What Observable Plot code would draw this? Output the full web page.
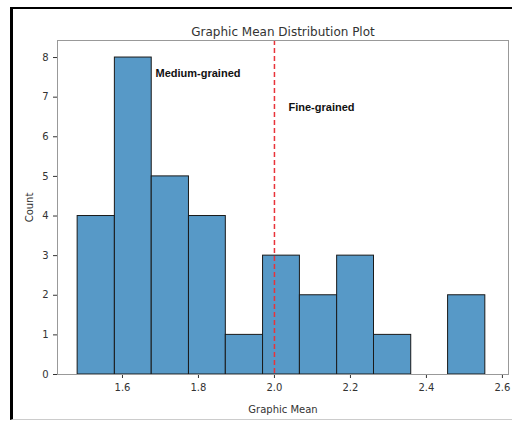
<!DOCTYPE html>
<html><head><meta charset="utf-8">
<script src="https://cdn.jsdelivr.net/npm/d3@7"></script>
<script src="https://cdn.jsdelivr.net/npm/@observablehq/plot@0.6"></script>
<style>
body{margin:0;background:#fff;}
#wrap{position:relative;width:512px;height:421px;overflow:hidden;}
#border{position:absolute;left:10px;top:7px;width:520px;height:410px;border-left:3px solid #000;border-top:2px solid #000;border-bottom:1px solid #ccc;pointer-events:none;}
#chart{position:absolute;left:0;top:0;}
</style></head>
<body><div id="wrap"><div id="chart"></div><div id="border"></div></div>
<script>
const binEdges = [1.482, 1.580, 1.677, 1.775, 1.872, 1.970, 2.067, 2.165, 2.262, 2.360, 2.457, 2.555];
const counts = [4, 8, 5, 4, 1, 3, 2, 3, 1, 0, 2];
const xTicks = [1.6, 1.8, 2.0, 2.2, 2.4, 2.6];
const yTicks = [0, 1, 2, 3, 4, 5, 6, 7, 8];
const threshold = 2.0;
const labels = [
  {text: "Medium-grained", x: 1.687, y: 7.6},
  {text: "Fine-grained", x: 2.037, y: 6.74}
];
const title = "Graphic Mean Distribution Plot";

const bins = counts.map((c, i) => ({x1: binEdges[i], x2: binEdges[i + 1], count: c})).filter(d => d.count > 0);

const chart = Plot.plot({
  width: 512,
  height: 421,
  marginLeft: 57,
  marginRight: 4,
  marginTop: 40,
  marginBottom: 47,
  style: {fontFamily: "DejaVu Sans", fontSize: "10px", color: "#333", background: "transparent"},
  x: {domain: [1.429, 2.616], ticks: xTicks, tickFormat: d3.format(".1f"), label: "Graphic Mean", labelAnchor: "center", labelArrow: "none", labelOffset: 38, tickSize: 4},
  y: {domain: [0, 8.43], ticks: yTicks, label: "Count", labelAnchor: "center", labelArrow: "none", labelOffset: 32, tickSize: 4},
  marks: [
    Plot.rectY(bins, {x1: "x1", x2: "x2", y: "count", fill: "#5799c7", stroke: "#1a1a1a", strokeWidth: 1}),
    Plot.ruleX([threshold], {stroke: "#e8333a", strokeWidth: 1.5, strokeDasharray: "5,3"}),
    Plot.text(labels, {x: "x", y: "y", text: "text", textAnchor: "start", fontWeight: "bold", fontFamily: "Liberation Sans", fontSize: 11, fill: "#111"}),
    Plot.frame({stroke: "#999"}),
    Plot.text([title], {frameAnchor: "top", dy: -13, fontSize: 12, fill: "#333"})
  ]
});
document.getElementById("chart").appendChild(chart);
</script>
</body></html>
